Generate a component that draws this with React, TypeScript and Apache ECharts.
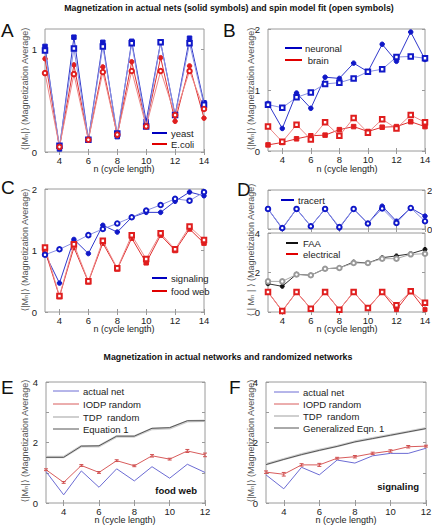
import React, { useEffect, useRef } from "react";
import * as echarts from "echarts";

// ---------- data ----------
const nFull = [3, 4, 5, 6, 7, 8, 9, 10, 11, 12, 13, 14];
const nShort = [3, 4, 5, 6, 7, 8, 9, 10, 11, 12];

const yeastActual = [1.03, 0.03, 1.12, 0.12, 1.07, 0.15, 1.08, 0.30, 1.07, 0.36, 1.11, 0.48];
const yeastFit = [0.99, 0.06, 1.01, 0.12, 1.03, 0.18, 1.06, 0.25, 1.07, 0.36, 1.06, 0.46];
const ecoliActual = [0.91, 0.05, 0.85, 0.12, 0.83, 0.16, 0.88, 0.27, 0.92, 0.30, 0.84, 0.33];
const ecoliFit = [0.77, 0.05, 0.76, 0.12, 0.78, 0.17, 0.79, 0.25, 0.79, 0.36, 0.79, 0.42];

const neuronalActual = [0.78, 0.37, 0.95, 0.70, 1.21, 1.19, 1.44, 1.30, 1.75, 1.47, 1.95, 1.50];
const neuronalFit = [0.76, 0.71, 0.88, 0.96, 1.10, 1.12, 1.19, 1.30, 1.34, 1.54, 1.55, 1.52];
const brainActual = [0.10, 0.14, 0.20, 0.25, 0.26, 0.35, 0.40, 0.32, 0.39, 0.40, 0.48, 0.40];
const brainFit = [0.40, 0.15, 0.43, 0.19, 0.47, 0.25, 0.54, 0.30, 0.52, 0.37, 0.59, 0.47];

const signalingActual = [0.95, 0.47, 1.18, 0.95, 1.41, 1.30, 1.54, 1.62, 1.62, 1.80, 1.95, 1.89];
const signalingFit = [0.93, 1.02, 1.13, 1.25, 1.35, 1.44, 1.54, 1.65, 1.74, 1.84, 1.81, 1.95];
const foodwebActual = [1.00, 0.25, 1.05, 0.49, 1.12, 0.70, 1.20, 0.80, 1.25, 1.00, 1.35, 1.12];
const foodwebFit = [1.05, 0.26, 1.10, 0.50, 1.16, 0.71, 1.25, 0.86, 1.28, 1.02, 1.39, 1.17];

const tracertActual = [1.03, 0.02, 1.03, 0.14, 1.03, 0.05, 1.03, 0.28, 1.17, 0.40, 1.08, 0.66];
const tracertFit = [1.03, 0.05, 1.03, 0.14, 1.03, 0.10, 1.03, 0.28, 1.05, 0.31, 1.08, 0.40];
const faaActual = [1.43, 1.30, 1.91, 1.86, 2.19, 2.23, 2.53, 2.48, 2.75, 2.84, 2.95, 3.17];
const faaFit = [1.55, 1.55, 1.90, 1.86, 2.19, 2.23, 2.48, 2.48, 2.70, 2.70, 2.92, 2.95];
const electricalActual = [1.01, 0.05, 1.01, 0.17, 1.01, 0.12, 1.01, 0.20, 1.01, 0.12, 1.05, 0.12];
const electricalFit = [1.01, 0.05, 1.01, 0.17, 1.01, 0.12, 1.01, 0.20, 1.01, 0.34, 1.05, 0.47];

const foodActualNet = [1.04, 0.27, 1.06, 0.52, 1.13, 0.73, 1.20, 0.82, 1.28, 1.01];
const foodIODP = [1.10, 0.68, 1.24, 1.01, 1.40, 1.23, 1.56, 1.45, 1.72, 1.59];
const foodIODPErr = [0.03, 0.03, 0.03, 0.03, 0.03, 0.03, 0.04, 0.03, 0.05, 0.06];
const foodTDP = [1.52, 1.52, 1.88, 1.88, 2.20, 2.20, 2.45, 2.47, 2.70, 2.72];
const foodEq1 = [1.51, 1.51, 1.88, 1.89, 2.21, 2.21, 2.47, 2.49, 2.72, 2.72];

const sigActualNet = [0.93, 0.47, 1.18, 0.93, 1.42, 1.32, 1.56, 1.64, 1.64, 1.81];
const sigIOPD = [1.02, 0.95, 1.26, 1.26, 1.48, 1.53, 1.64, 1.72, 1.86, 1.88];
const sigIOPDErr = [0.04, 0.06, 0.04, 0.05, 0.03, 0.04, 0.04, 0.04, 0.04, 0.03];
const sigTDP = [1.28, 1.45, 1.61, 1.75, 1.88, 2.03, 2.14, 2.25, 2.36, 2.47];
const sigEq1 = [1.27, 1.44, 1.60, 1.74, 1.87, 2.02, 2.13, 2.24, 2.35, 2.46];

const xTicksFull = [4, 6, 8, 10, 12, 14];
const xTicksShort = [4, 6, 8, 10, 12];
const yTicksA = [0, 1];
const yTicksBC = [0, 1, 2];
const yTicksDTop = [0, 2];
const yTicksDBottom = [0, 2, 4];
const yLabelsEF = [0, 2, 4];
const yTicksEF = [0, 1, 2, 3, 4];

const title1 = "Magnetization in actual nets (solid symbols) and spin model fit (open symbols)";
const title2 = "Magnetization in actual networks and randomized networks";
const yName = "\u27E8|M\u2099|\u27E9 (Magnetization Average)";
const yNameD = "\u27E8 | M\u2099 | \u27E9 (Magnetization Average)";
const xName = "n (cycle length)";

// ---------- styles ----------
const FONT = "Liberation Sans, Arial, Helvetica, DejaVu Sans, sans-serif";
const BLUE = "#1018c8";
const BLUE_LINE = "#3038cc";
const BLUE_FIT = "#8a90e2";
const RED = "#e01e1e";
const RED_LINE = "#e03030";
const RED_FIT = "#ec8888";
const FRAME = "#9a9a9a";

function pairs(xs: number[], ys: number[]) {
  return xs.map((x, i) => [x, ys[i]]);
}

type PanelDef = {
  rect: { left: number; top: number; width: number; height: number };
  xMin: number;
  xMax: number;
  yMin: number;
  yMax: number;
  xTicks: number[];
  xLabels: boolean;
  yTicks: number[];
  yLabels: number[];
  yLabelSide: "left" | "right";
};

const panels: PanelDef[] = [
  { rect: { left: 45, top: 29, width: 159, height: 123 }, xMin: 3, xMax: 14, yMin: 0, yMax: 1.2, xTicks: xTicksFull, xLabels: true, yTicks: yTicksA, yLabels: yTicksA, yLabelSide: "left" },
  { rect: { left: 268, top: 29, width: 157, height: 122 }, xMin: 3, xMax: 14, yMin: 0, yMax: 2, xTicks: xTicksFull, xLabels: true, yTicks: yTicksBC, yLabels: yTicksBC, yLabelSide: "left" },
  { rect: { left: 45, top: 189, width: 159, height: 123 }, xMin: 3, xMax: 14, yMin: 0, yMax: 2, xTicks: xTicksFull, xLabels: true, yTicks: yTicksBC, yLabels: yTicksBC, yLabelSide: "left" },
  { rect: { left: 268, top: 190, width: 157, height: 39 }, xMin: 3, xMax: 14, yMin: 0, yMax: 2, xTicks: xTicksFull, xLabels: false, yTicks: yTicksDTop, yLabels: yTicksDTop, yLabelSide: "right" },
  { rect: { left: 268, top: 233, width: 157, height: 79 }, xMin: 3, xMax: 14, yMin: 0, yMax: 4, xTicks: xTicksFull, xLabels: true, yTicks: yTicksDBottom, yLabels: yTicksDBottom, yLabelSide: "left" },
  { rect: { left: 46, top: 382, width: 159, height: 121 }, xMin: 3, xMax: 12, yMin: 0, yMax: 4, xTicks: xTicksShort, xLabels: true, yTicks: yTicksEF, yLabels: yLabelsEF, yLabelSide: "left" },
  { rect: { left: 266, top: 382, width: 160, height: 121 }, xMin: 3, xMax: 12, yMin: 0, yMax: 4, xTicks: xTicksShort, xLabels: true, yTicks: yTicksEF, yLabels: yLabelsEF, yLabelSide: "left" },
];

function buildAxes() {
  const grid: any[] = [];
  const xAxis: any[] = [];
  const yAxis: any[] = [];
  panels.forEach((p, gi) => {
    grid.push({
      ...p.rect,
      show: true,
      borderColor: FRAME,
      borderWidth: 1,
      backgroundColor: "transparent",
      containLabel: false,
      outerBoundsMode: "none",
    });
    (["bottom", "top"] as const).forEach((pos) => {
      xAxis.push({
        type: "value",
        gridIndex: gi,
        position: pos,
        min: p.xMin,
        max: p.xMax,
        splitLine: { show: false },
        axisLine: { show: false },
        axisTick: { show: true, inside: true, length: 3, customValues: p.xTicks, lineStyle: { color: FRAME } },
        axisLabel: {
          show: pos === "bottom" && p.xLabels,
          customValues: p.xTicks,
          fontSize: 9.5,
          color: "#222",
          margin: 3,
          fontFamily: FONT,
        },
      });
    });
    (["left", "right"] as const).forEach((pos) => {
      yAxis.push({
        type: "value",
        gridIndex: gi,
        position: pos,
        min: p.yMin,
        max: p.yMax,
        splitLine: { show: false },
        axisLine: { show: false },
        axisTick: { show: true, inside: true, length: 3, customValues: p.yTicks, lineStyle: { color: FRAME } },
        axisLabel: {
          show: pos === p.yLabelSide,
          customValues: p.yLabels,
          fontSize: 9.5,
          color: "#222",
          margin: pos === "right" ? 2 : 8,
          fontFamily: FONT,
        },
      });
    });
  });
  return { grid, xAxis, yAxis };
}

function lineSeries(
  gi: number,
  xs: number[],
  ys: number[],
  color: string,
  lineColor: string,
  symbol: string,
  opts: any = {}
) {
  return {
    type: "line",
    xAxisIndex: gi * 2,
    yAxisIndex: gi * 2,
    data: pairs(xs, ys),
    symbol,
    symbolSize: opts.symbolSize ?? 4.5,
    showSymbol: symbol !== "none",
    lineStyle: { color: lineColor, width: opts.width ?? 1 },
    itemStyle: { color, borderColor: color, borderWidth: 1 },
    z: opts.z ?? 2,
    silent: true,
  };
}

function errorSeries(gi: number, xs: number[], ys: number[], es: number[], color: string) {
  return {
    type: "custom",
    xAxisIndex: gi * 2,
    yAxisIndex: gi * 2,
    data: xs.map((x, i) => [x, ys[i], es[i]]),
    z: 4,
    silent: true,
    renderItem: (_params: any, api: any) => {
      const x = api.value(0);
      const y = api.value(1);
      const e = api.value(2);
      const top = api.coord([x, y + e]);
      const bot = api.coord([x, y - e]);
      const st = { stroke: color, lineWidth: 1 };
      return {
        type: "group",
        children: [
          { type: "line", shape: { x1: top[0], y1: top[1], x2: bot[0], y2: bot[1] }, style: st },
          { type: "line", shape: { x1: top[0] - 2, y1: top[1], x2: top[0] + 2, y2: top[1] }, style: st },
          { type: "line", shape: { x1: bot[0] - 2, y1: bot[1], x2: bot[0] + 2, y2: bot[1] }, style: st },
        ],
      };
    },
  };
}

function txt(x: number, y: number, text: string, opts: any = {}) {
  return {
    type: "text",
    x,
    y,
    rotation: opts.rotation ?? 0,
    silent: true,
    style: {
      text,
      fill: opts.color ?? "#222",
      fontSize: opts.size ?? 10,
      fontWeight: opts.weight ?? "normal",
      fontFamily: FONT,
      textAlign: opts.align ?? "left",
      textVerticalAlign: "middle",
    },
  };
}

function legendItem(x1: number, x2: number, y: number, color: string, tx: number, label: string, width = 2) {
  return [
    { type: "line", silent: true, shape: { x1, y1: y, x2, y2: y }, style: { stroke: color, lineWidth: width } },
    txt(tx, y, label, { size: 9.5, color: "#222" }),
  ];
}

function buildOption() {
  const { grid, xAxis, yAxis } = buildAxes();
  const series: any[] = [
    // A
    lineSeries(0, nFull, yeastActual, BLUE, BLUE_LINE, "rect"),
    lineSeries(0, nFull, ecoliActual, RED, RED_LINE, "circle"),
    lineSeries(0, nFull, yeastFit, BLUE, BLUE_FIT, "emptyRect", { z: 3 }),
    lineSeries(0, nFull, ecoliFit, RED, RED_FIT, "emptyCircle", { z: 3 }),
    // B
    lineSeries(1, nFull, neuronalActual, BLUE, BLUE_LINE, "circle"),
    lineSeries(1, nFull, brainActual, RED, RED_LINE, "rect"),
    lineSeries(1, nFull, neuronalFit, BLUE, BLUE_FIT, "emptyRect", { z: 3 }),
    lineSeries(1, nFull, brainFit, RED, RED_FIT, "emptyRect", { z: 3 }),
    // C
    lineSeries(2, nFull, signalingActual, BLUE, BLUE_LINE, "circle"),
    lineSeries(2, nFull, foodwebActual, RED, RED_LINE, "rect"),
    lineSeries(2, nFull, signalingFit, BLUE, BLUE_FIT, "emptyCircle", { z: 3 }),
    lineSeries(2, nFull, foodwebFit, RED, RED_FIT, "emptyRect", { z: 3 }),
    // D top
    lineSeries(3, nFull, tracertActual, BLUE, BLUE_LINE, "circle"),
    lineSeries(3, nFull, tracertFit, BLUE, BLUE_FIT, "emptyCircle", { z: 3 }),
    // D bottom
    lineSeries(4, nFull, faaActual, "#111", "#333", "circle", { symbolSize: 4 }),
    lineSeries(4, nFull, electricalActual, RED, RED_LINE, "rect", { symbolSize: 4 }),
    lineSeries(4, nFull, faaFit, "#9a9a9a", "#aaaaaa", "emptyCircle", { z: 3 }),
    lineSeries(4, nFull, electricalFit, RED, RED_FIT, "emptyRect", { z: 3 }),
    // E
    lineSeries(5, nShort, foodTDP, "#cccccc", "#cfcfcf", "none", { width: 2.5 }),
    lineSeries(5, nShort, foodEq1, "#555", "#555555", "none", { width: 1 }),
    lineSeries(5, nShort, foodIODP, "#d05050", "#d85c5c", "none", { width: 1 }),
    errorSeries(5, nShort, foodIODP, foodIODPErr, "#d05050"),
    lineSeries(5, nShort, foodActualNet, "#6a6ad0", "#6c6cd4", "none", { width: 1 }),
    // F
    lineSeries(6, nShort, sigTDP, "#cccccc", "#cfcfcf", "none", { width: 2.5 }),
    lineSeries(6, nShort, sigEq1, "#555", "#555555", "none", { width: 1 }),
    lineSeries(6, nShort, sigIOPD, "#d05050", "#d85c5c", "none", { width: 1 }),
    errorSeries(6, nShort, sigIOPD, sigIOPDErr, "#d05050"),
    lineSeries(6, nShort, sigActualNet, "#6a6ad0", "#6c6cd4", "none", { width: 1 }),
  ];

  const yLab = (x: number, y: number, t: string) =>
    txt(x, y, t, { rotation: Math.PI / 2, align: "center", size: 9, color: "#555" });
  const xLab = (x: number, y: number) => txt(x, y, xName, { align: "center", size: 9 });
  const letter = (x: number, y: number, t: string) => txt(x, y, t, { size: 19, color: "#111" });

  const graphic: any[] = [
    txt(229, 8, title1, { align: "center", size: 8.8, weight: "bold", color: "#111" }),
    txt(228, 357, title2, { align: "center", size: 8.8, weight: "bold", color: "#111" }),
    letter(1, 30, "A"),
    letter(223, 30, "B"),
    letter(1, 187, "C"),
    letter(237, 189, "D"),
    letter(1, 387, "E"),
    letter(229, 387, "F"),
    yLab(25, 89, yName),
    yLab(251, 89, yName),
    yLab(25, 250, yName),
    yLab(251, 250, yNameD),
    yLab(25, 441, yName),
    yLab(251, 441, yName),
    xLab(124, 169),
    xLab(347, 169),
    xLab(124, 329),
    xLab(347, 329),
    xLab(125, 520),
    xLab(346, 520),
    ...legendItem(152, 167, 133, "#0000c0", 171, "yeast"),
    ...legendItem(152, 167, 144, "#e00000", 171, "E.coli"),
    ...legendItem(285, 302, 48, "#0000c0", 305, "neuronal"),
    ...legendItem(285, 302, 60, "#e00000", 305, " brain"),
    ...legendItem(152, 167, 278, "#0000c0", 171, "signaling"),
    ...legendItem(152, 167, 291, "#e00000", 171, "food web"),
    ...legendItem(281, 294, 200, "#0000c0", 298, "tracert"),
    ...legendItem(286, 298, 243, "#111111", 303, "FAA"),
    ...legendItem(286, 298, 254, "#e00000", 303, "electrical"),
    ...legendItem(53, 79, 391, "#6c6cd4", 83, "actual net", 1),
    ...legendItem(53, 79, 404, "#d85c5c", 83, "IODP random", 1),
    ...legendItem(53, 79, 417, "#cfcfcf", 83, "TDP  random", 2),
    ...legendItem(53, 79, 429, "#555555", 83, "Equation 1", 1),
    ...legendItem(274, 299, 392, "#6c6cd4", 303, "actual net", 1),
    ...legendItem(274, 299, 404, "#d85c5c", 303, "IOPD random", 1),
    ...legendItem(274, 299, 416, "#cfcfcf", 303, "TDP  random", 2),
    ...legendItem(274, 299, 428, "#555555", 303, "Generalized Eqn. 1", 1),
    txt(197, 490, "food web", { align: "right", size: 9.5, weight: "bold", color: "#111" }),
    txt(419, 486, "signaling", { align: "right", size: 9.5, weight: "bold", color: "#111" }),
  ];

  return {
    animation: false,
    backgroundColor: "#ffffff",
    grid,
    xAxis,
    yAxis,
    series,
    graphic,
  };
}

export default function App() {
  const ref = useRef<HTMLDivElement | null>(null);
  useEffect(() => {
    document.body.style.margin = "0";
    if (!ref.current) return;
    const chart = echarts.init(ref.current, undefined, { renderer: "svg" });
    chart.setOption(buildOption() as any);
    return () => chart.dispose();
  }, []);
  return (
    <div
      ref={ref}
      style={{ width: 432, height: 528, position: "absolute", left: 0, top: 0 }}
    />
  );
}
